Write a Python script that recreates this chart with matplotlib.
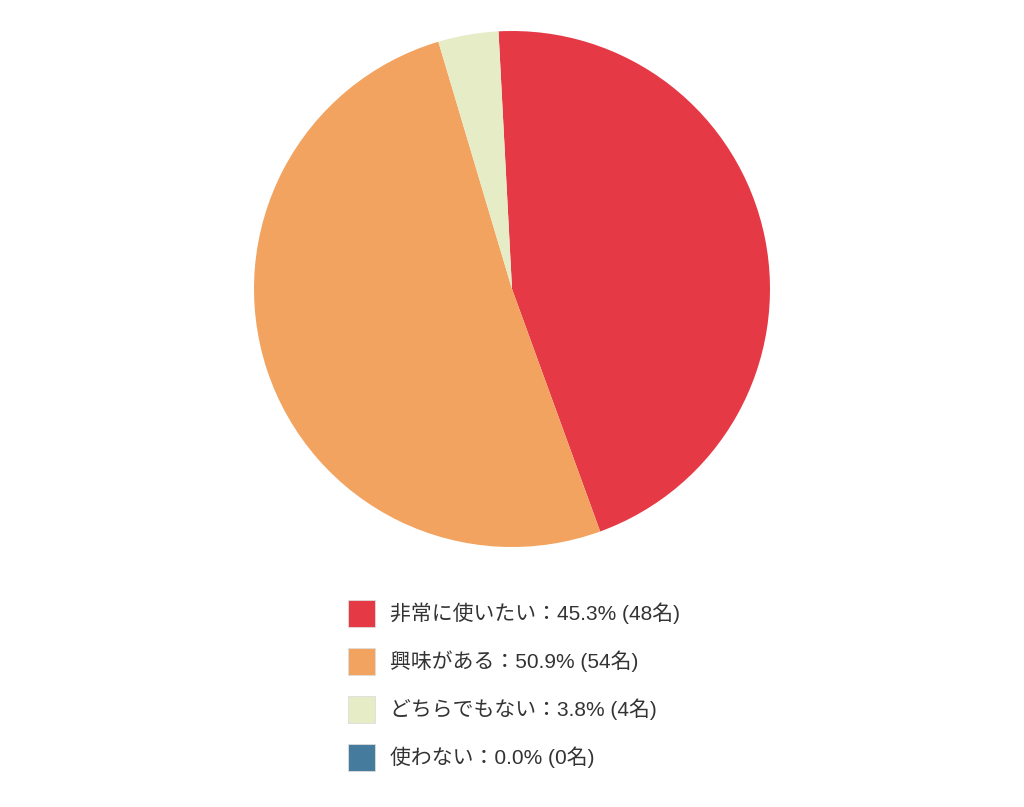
import matplotlib.pyplot as plt
from matplotlib.patches import Rectangle

plt.rcParams['font.family'] = ['Liberation Sans', 'Noto Sans CJK JP', 'DejaVu Sans']

labels = ['非常に使いたい', '興味がある', 'どちらでもない', '使わない']
counts = [48, 54, 4, 0]
colors = ['#E63946', '#F2A35F', '#E6ECC6', '#457B9D']

total = sum(counts)
W, H = 1024, 807
fig = plt.figure(figsize=(W / 100, H / 100), dpi=100)

# pie: centre (512, 289) px, radius 258 px
cx, cy, r = 512, 289, 258
ax = fig.add_axes([(cx - r) / W, (H - cy - r) / H, 2 * r / W, 2 * r / H])
ax.pie(counts, colors=colors, startangle=93, counterclock=False,
       radius=1, wedgeprops=dict(linewidth=0))
ax.set_xlim(-1, 1)
ax.set_ylim(-1, 1)
ax.set_aspect('equal')
ax.axis('off')

# legend drawn by hand in pixel coords
lg = fig.add_axes([0, 0, 1, 1])
lg.set_xlim(0, W)
lg.set_ylim(H, 0)
lg.axis('off')
row_y = [613, 661, 709, 757]
for lab, n, col, y in zip(labels, counts, colors, row_y):
    lg.add_patch(Rectangle((348, y - 13.5), 27, 27, facecolor=col,
                           edgecolor='#dddddd', linewidth=0.6))
    pct = n / total * 100
    lg.text(390, y, f'{lab}：{pct:.1f}% ({n}名)', fontsize=15,
            color='#333333', va='center', ha='left')

fig.savefig('out.png', dpi=100, facecolor='white')
